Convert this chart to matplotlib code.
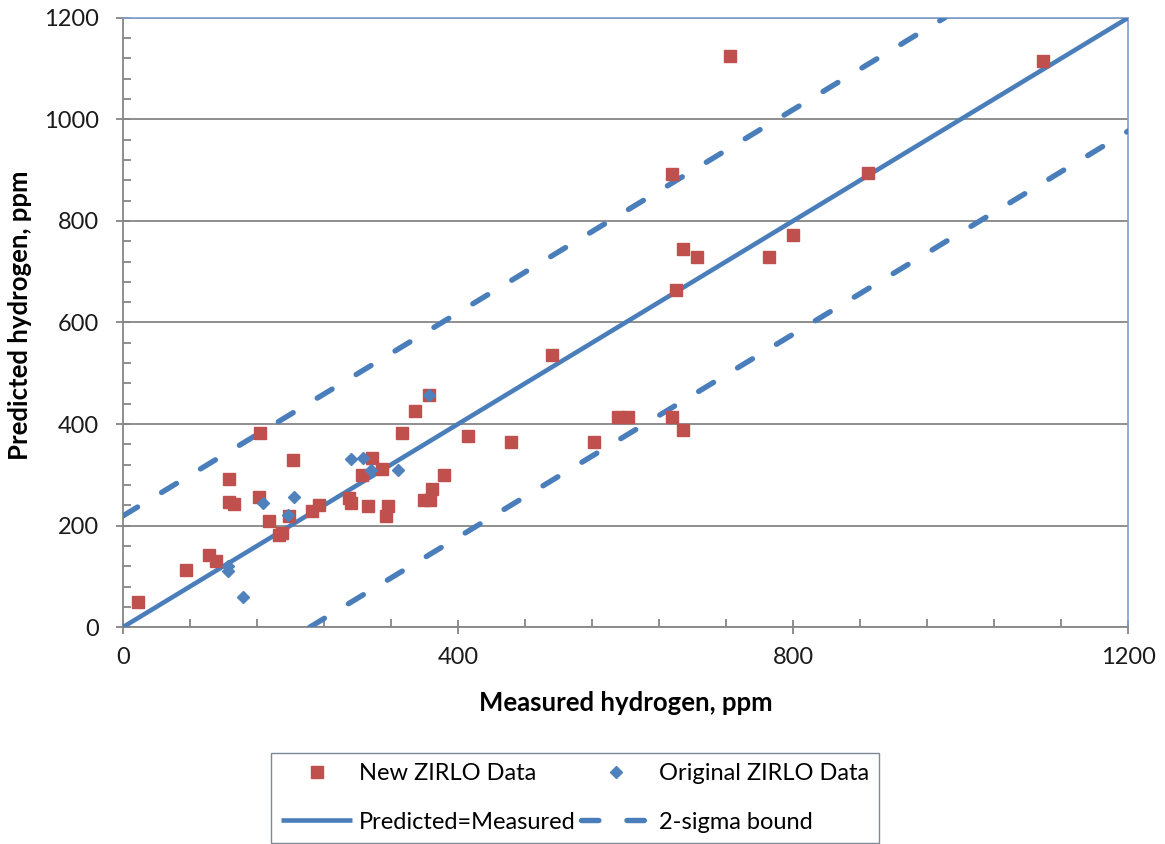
import matplotlib
matplotlib.use("Agg")
import matplotlib.pyplot as plt
from matplotlib.ticker import MultipleLocator

plt.rcParams['font.family'] = ['Lato', 'DejaVu Sans']

# ---- data ----
new_x = [18, 75, 103, 111, 127, 127, 133, 164, 163, 175, 186, 190, 203, 199, 226, 234,
         270, 272, 286, 297, 309, 293, 314, 317, 333, 349, 365, 359, 367, 369, 383,
         412, 463, 512, 562, 591, 603, 656, 669, 656, 669, 685, 660, 725, 771, 800,
         889, 1098]
new_y = [49, 112, 143, 130, 291, 247, 242, 382, 257, 209, 182, 185, 329, 219, 228, 240,
         255, 244, 299, 333, 312, 238, 219, 238, 382, 426, 458, 250, 251, 272, 300,
         376, 364, 536, 364, 413, 413, 413, 388, 892, 744, 728, 663, 1124, 728, 772,
         895, 1115]

orig_x = [126, 126, 143, 168, 197, 204, 272, 287, 296, 328, 365]
orig_y = [120, 111, 60, 245, 221, 256, 331, 333, 310, 309, 458]

ideal_x = [0, 1200]
ideal_y = [0, 1200]
upper_x = [0, 981]
upper_y = [219, 1200]
lower_x = [223, 1200]
lower_y = [0, 977]

x_ticks = [0, 400, 800, 1200]
y_ticks = [0, 200, 400, 600, 800, 1000, 1200]

RED = '#C0504D'
BLUE = '#4F81BD'
LINE = '#4A7EBB'
GRAY = '#868686'

fig = plt.figure(figsize=(11.65, 8.44), dpi=100)
ax = fig.add_axes([122.7 / 1165, 1 - 627.3 / 844, 1005.6 / 1165, 609.6 / 844])

ax.plot(ideal_x, ideal_y, color=LINE, lw=3.3, solid_capstyle='butt',
        label='Predicted=Measured', zorder=3)
ax.plot(upper_x, upper_y, color=LINE, lw=3.9, dashes=(3.2, 5.2),
        dash_capstyle='round', label='2-sigma bound', zorder=3)
ax.plot(lower_x, lower_y, color=LINE, lw=3.9, dashes=(3.2, 5.2),
        dash_capstyle='round', zorder=3)
ax.plot(new_x, new_y, ls='none', marker='s', ms=8.8, color=RED, mec=RED,
        label='New ZIRLO Data', zorder=4)
ax.plot(orig_x, orig_y, ls='none', marker='D', ms=5.9, color=BLUE, mec=BLUE,
        label='Original ZIRLO Data', zorder=5)

ax.set_xlim(0, 1200)
ax.set_ylim(0, 1200)
ax.set_xticks(x_ticks)
ax.set_yticks(y_ticks)
ax.xaxis.set_minor_locator(MultipleLocator(80))
ax.yaxis.set_minor_locator(MultipleLocator(40))

ax.grid(axis='y', which='major', color=GRAY, lw=1.3, zorder=1)
ax.set_axisbelow(True)

for s in ['left', 'bottom']:
    ax.spines[s].set_color(GRAY)
    ax.spines[s].set_linewidth(1.3)
for s in ['top', 'right']:
    ax.spines[s].set_color('#7F9FCB')
    ax.spines[s].set_linewidth(1.2)

ax.tick_params(which='major', direction='inout', length=10.5, width=1.3, color=GRAY,
               labelsize=17, labelcolor='#1a1a1a')
ax.tick_params(axis='y', which='major', pad=12)
ax.tick_params(axis='x', which='major', pad=9)
ax.tick_params(which='minor', direction='in', length=5.5, width=1.3, color=GRAY)

ax.set_xlabel('Measured hydrogen, ppm', fontsize=18.5, fontweight='bold', va='center')
ax.xaxis.set_label_coords(0.5, -0.124)
ax.set_ylabel('Predicted hydrogen, ppm', fontsize=18.5, fontweight='bold', va='center')
ax.yaxis.set_label_coords(-0.102, 0.512)

h, l = ax.get_legend_handles_labels()
# order: New, Predicted (col 1), Original, 2-sigma (col 2)
order = [l.index('New ZIRLO Data'), l.index('Predicted=Measured'),
         l.index('Original ZIRLO Data'), l.index('2-sigma bound')]
leg = fig.legend([h[i] for i in order], [l[i] for i in order], ncol=2,
                 loc='center', bbox_to_anchor=(575 / 1165, 1 - 798 / 844),
                 fontsize=17, frameon=True, fancybox=False, handlelength=3.0,
                 handletextpad=0.3, columnspacing=0.2, labelspacing=1.15,
                 borderpad=0.45, borderaxespad=0)
leg.get_frame().set_edgecolor('#5a6b7c')
leg.get_frame().set_linewidth(1.0)

fig.savefig('out.png', dpi=100)
